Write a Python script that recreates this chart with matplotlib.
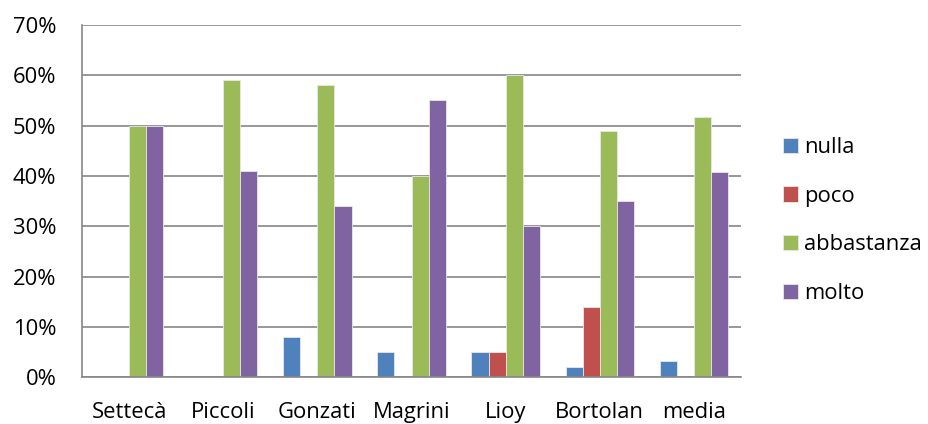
import numpy as np
import matplotlib
matplotlib.use('Agg')
import matplotlib.pyplot as plt
from matplotlib.ticker import MultipleLocator, FuncFormatter

plt.rcParams['font.family'] = ['Open Sans', 'DejaVu Sans']

categories = ['Settecà', 'Piccoli', 'Gonzati', 'Magrini', 'Lioy', 'Bortolan', 'media']
series = ['nulla', 'poco', 'abbastanza', 'molto']
nulla = [0, 0, 8, 5, 5, 2, 3.3]
poco = [0, 0, 0, 0, 5, 14, 0]
abbastanza = [50, 59, 58, 40, 60, 49, 51.7]
molto = [50, 41, 34, 55, 30, 35, 40.8]
colors = ['#4f81bd', '#c0504d', '#9bbb59', '#8064a2']

fs = 15.8

fig = plt.figure(figsize=(9.29, 4.24), dpi=100)
ax = fig.add_axes([82 / 929, 1 - 377.3 / 424, (741 - 82) / 929, (377.3 - 25) / 424])

x = np.arange(len(categories))
w = 1 / 5.5
for i, (vals, c, name) in enumerate(zip([nulla, poco, abbastanza, molto], colors, series)):
    ax.bar(x + (i - 1.5) * w, vals, w, color=c, label=name,
           edgecolor='#e8e8e8', linewidth=0.6)

ax.set_xlim(-0.5, len(categories) - 0.5)
ax.set_ylim(0, 70)
ax.yaxis.set_major_locator(MultipleLocator(10))
ax.yaxis.set_major_formatter(FuncFormatter(lambda v, p: '%d%%' % v))
ax.set_xticks(x)
ax.set_xticklabels(categories)
ax.tick_params(length=0, labelsize=fs, colors='black')
ax.tick_params(axis='x', pad=17.5)
ax.tick_params(axis='y', pad=18.5)
ax.grid(axis='y', color='#868686', linewidth=1.2)
ax.set_axisbelow(True)
for s in ['top', 'right']:
    ax.spines[s].set_visible(False)
for s in ['left', 'bottom']:
    ax.spines[s].set_color('#868686')
    ax.spines[s].set_linewidth(1.2)

ax.legend(loc='center left', bbox_to_anchor=(763 / 929, 1 - 220.5 / 424), bbox_transform=fig.transFigure,
          frameon=False, fontsize=fs, handlelength=0.68, handleheight=0.68,
          labelspacing=1.26, handletextpad=0.31)

fig.savefig('out.png', dpi=100)
